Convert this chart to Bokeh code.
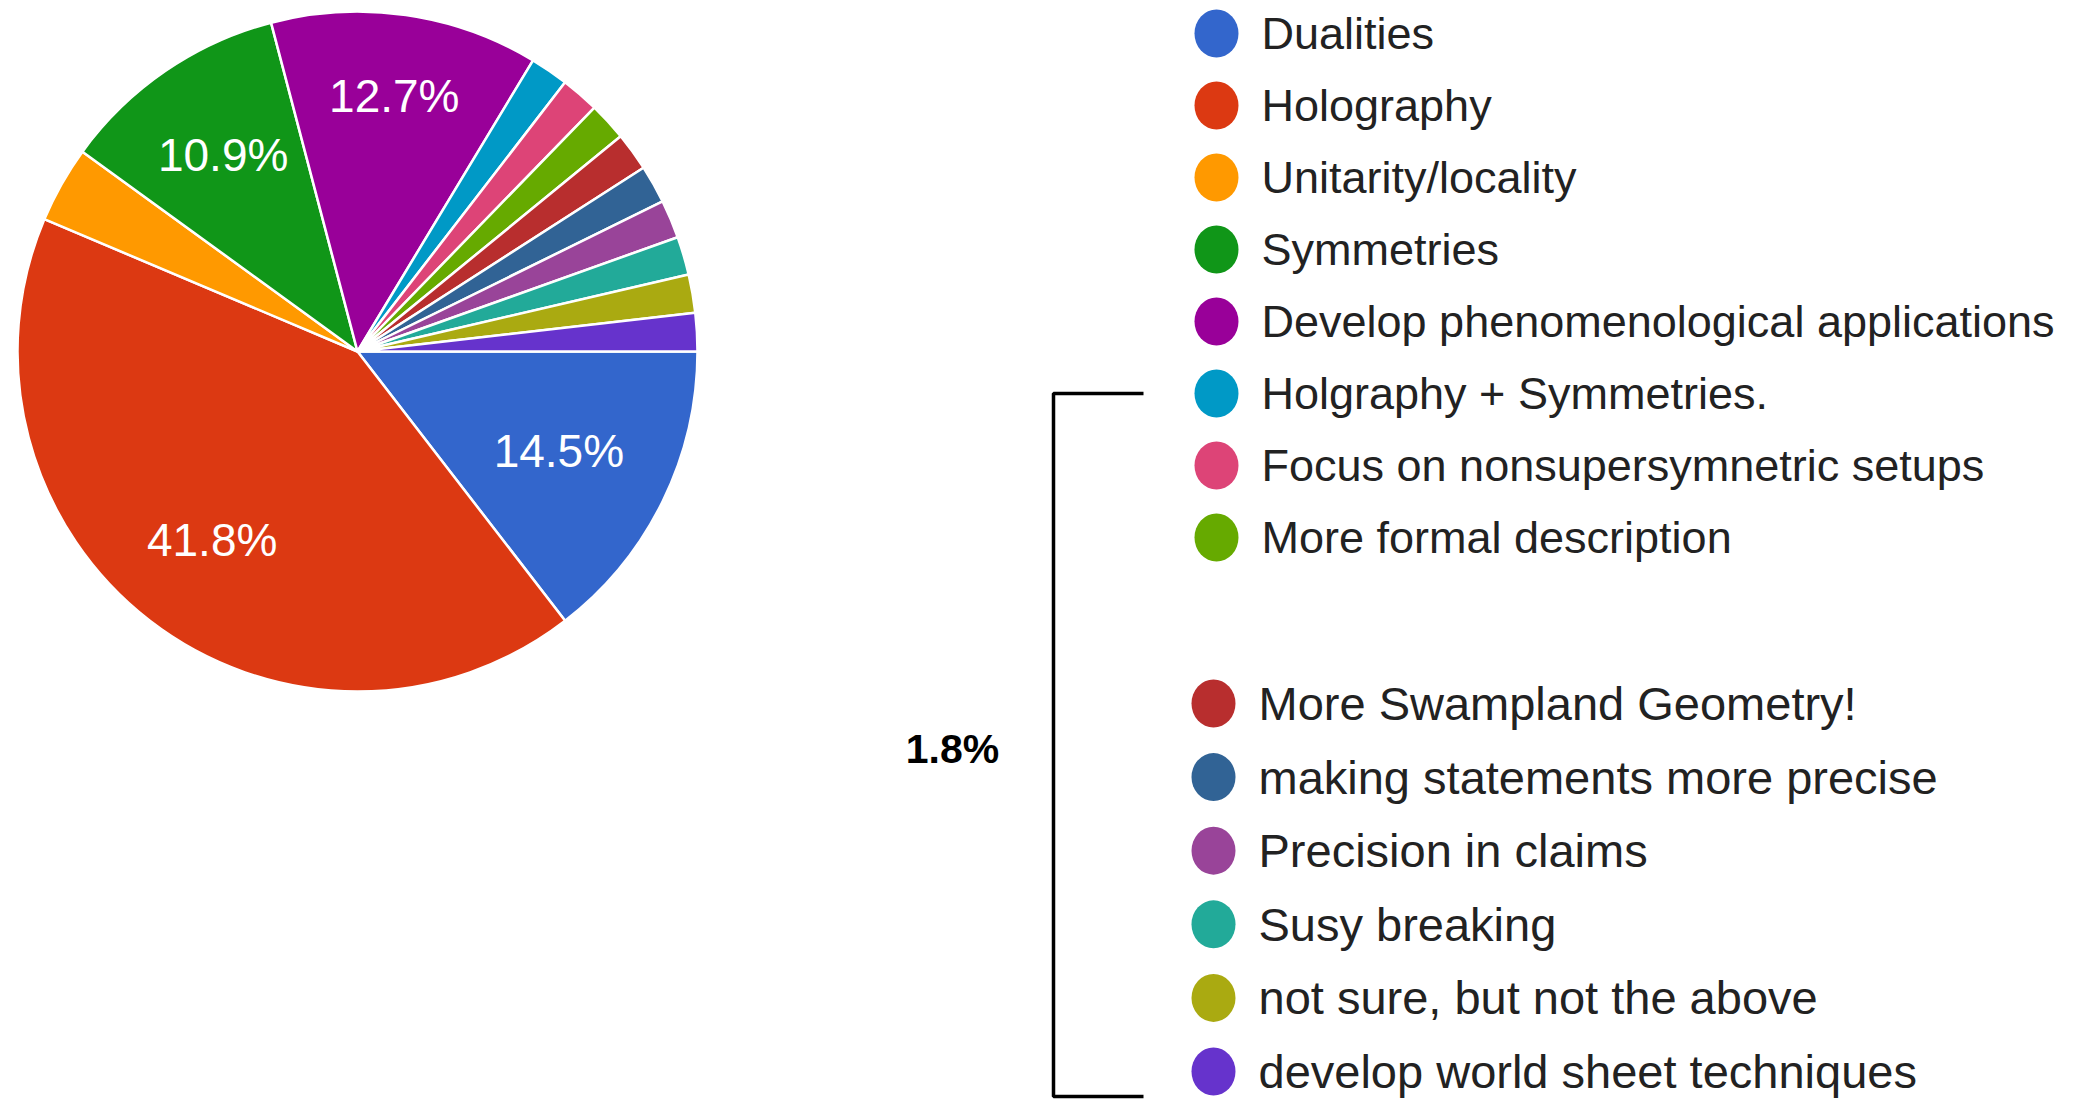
import numpy as np
from bokeh.plotting import figure
from bokeh.models import ColumnDataSource, Range1d
from bokeh.core.properties import value
from bokeh.embed import file_html
from bokeh.resources import INLINE

# ---- data ----
categories = ["Dualities", "Holography", "Unitarity/locality", "Symmetries",
              "Develop phenomenological applications", "Holgraphy + Symmetries.",
              "Focus on nonsupersymnetric setups", "More formal description",
              "More Swampland Geometry!", "making statements more precise",
              "Precision in claims", "Susy breaking", "not sure, but not the above",
              "develop world sheet techniques"]
counts = [8, 23, 2, 6, 7, 1, 1, 1, 1, 1, 1, 1, 1, 1]
colors = ["#3366cc", "#dc3912", "#ff9900", "#109618", "#990099", "#0099c6",
          "#dd4477", "#66aa00", "#b82e2e", "#316395", "#994499", "#22aa99",
          "#aaaa11", "#6633cc"]
group_label = "1.8%"

# ---- layout (reference pixel coords, y measured upward) ----
W, H = 2088, 1099
def Y(py):
    return H - py

cx, cy, R = 357, Y(351), 340
# label distance from centre, as a fraction of the radius (per slice)
label_r = [0.66, 0.70, 0.70, 0.70, 0.76] + [0.70] * 9

vals = np.array(counts, dtype=float)
frac = vals / vals.sum()
cum_end = np.cumsum(frac)
cum_start = cum_end - frac
start = -cum_end * 2 * np.pi
end = -cum_start * 2 * np.pi
mid = -(cum_start + cum_end) / 2 * 2 * np.pi

src = ColumnDataSource(dict(start=start, end=end, color=colors))

p = figure(width=W, height=H, output_backend="svg", toolbar_location=None,
           x_axis_location=None, y_axis_location=None, min_border=0,
           x_range=Range1d(0, W), y_range=Range1d(0, H))
p.grid.visible = False
p.outline_line_color = None
p.background_fill_color = "white"

p.wedge(x=cx, y=cy, radius=R, start_angle="start", end_angle="end",
        direction="anticlock", fill_color="color", line_color="white",
        line_width=2.5, source=src)

# slice labels (only for larger slices)
lr = np.array(label_r) * R
pct = [f"{100 * f:.1f}%" for f in frac]
show = frac >= 0.05
lsrc = ColumnDataSource(dict(
    x=(cx + lr * np.cos(mid))[show],
    y=(cy + lr * np.sin(mid))[show],
    t=[t for t, s in zip(pct, show) if s]))
p.text(x="x", y="y", text="t", source=lsrc, text_color="white",
       text_font=value("Liberation Sans"), text_font_size="46px",
       text_align="center", text_baseline="middle")

# legend: two groups
n1 = 8
leg_x1, leg_y1, step1 = 1216, 33, 72
leg_x2, leg_y2, step2 = 1213, 703, 73.6
src1 = ColumnDataSource(dict(
    x=[leg_x1] * n1, y=[Y(leg_y1 + i * step1) for i in range(n1)],
    tx=[leg_x1 + 45] * n1, t=categories[:n1], color=colors[:n1]))
n2 = len(categories) - n1
src2 = ColumnDataSource(dict(
    x=[leg_x2] * n2, y=[Y(leg_y2 + i * step2) for i in range(n2)],
    tx=[leg_x2 + 45] * n2, t=categories[n1:], color=colors[n1:]))
for s, fs in ((src1, "45px"), (src2, "47px")):
    p.ellipse(x="x", y="y", width=44, height=48, fill_color="color",
              line_color=None, source=s)
    p.text(x="tx", y="y", text="t", source=s, text_color="#222222",
           text_font=value("Liberation Sans"), text_font_size=fs,
           text_align="left", text_baseline="middle")

# bracket grouping the 1.8% items
bx0, bx1, by0, by1 = 1143, 1053, Y(393), Y(1096)
p.line(x=[bx0, bx1, bx1, bx0], y=[by0, by0, by1, by1], line_color="black",
       line_width=3.5)
p.text(x=[952], y=[Y(748)], text=[group_label], text_color="black",
       text_font=value("Liberation Sans"), text_font_size="41px",
       text_font_style="bold", text_align="center", text_baseline="middle")

open("out.html", "w").write(file_html(p, INLINE))
